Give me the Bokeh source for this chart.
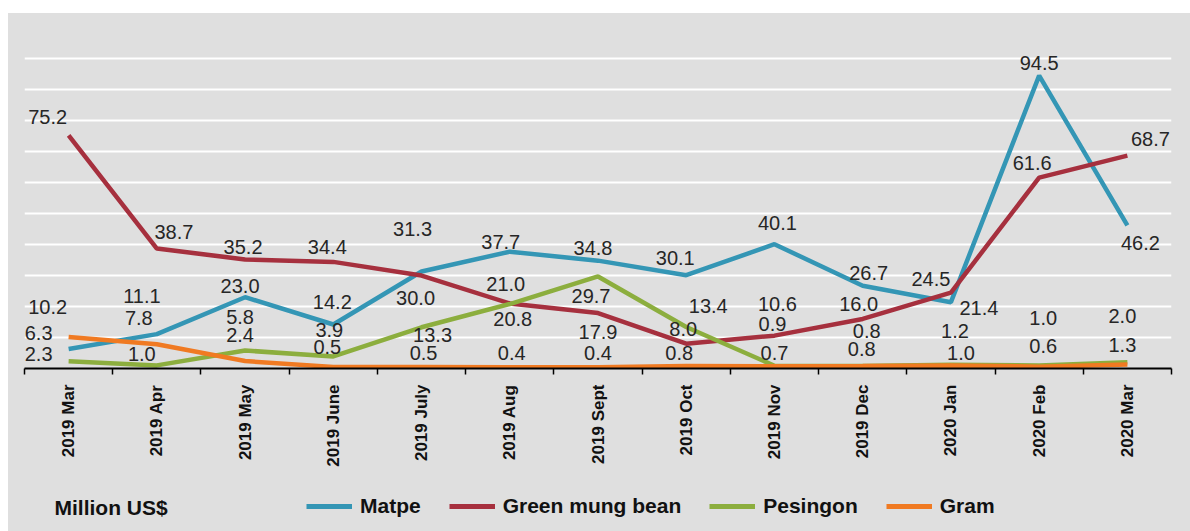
import math
from bokeh.plotting import figure
from bokeh.models import ColumnDataSource, FixedTicker, Range1d, Label, Spacer
from bokeh.layouts import column, row
from bokeh.core.properties import value
from bokeh.embed import file_html
from bokeh.resources import INLINE

# ---- data ----
categories = ["2019 Mar", "2019 Apr", "2019 May", "2019 June", "2019 July", "2019 Aug",
              "2019 Sept", "2019 Oct", "2019 Nov", "2019 Dec", "2020 Jan", "2020 Feb", "2020 Mar"]
series_names = ["Matpe", "Green mung bean", "Pesingon", "Gram"]
matpe = [6.3, 11.1, 23.0, 14.2, 31.3, 37.7, 34.8, 30.1, 40.1, 26.7, 21.4, 94.5, 46.2]
green_mung_bean = [75.2, 38.7, 35.2, 34.4, 30.0, 21.0, 17.9, 8.0, 10.6, 16.0, 24.5, 61.6, 68.7]
pesingon = [2.3, 1.0, 5.8, 3.9, 13.3, 20.8, 29.7, 13.4, 0.9, 0.8, 1.2, 1.0, 2.0]
gram = [10.2, 7.8, 2.4, 0.5, 0.5, 0.4, 0.4, 0.8, 0.7, 0.8, 1.0, 0.6, 1.3]
unit_label = "Million US$"

# ---- styles ----
colors = ["#3496b5", "#a6303e", "#8cae3e", "#f07a22"]
# label pixel offsets (dx, dy) relative to each point (screen pixels, dy down)
label_dx = [
    [-30, -15, -5, -1, -9, -9, -5, -11, 3, 6, 28, 0, 13],
    [-21, 17, -2, -6, -6, -4, 0, -3, 3, -4, -20, -7, 23],
    [-30, -15, -5, -4, 11, 3, -7, 22, -2, 4, 4, 4, -5],
    [-21, -18, -5, -6, 2, 2, 0, -7, 0, -1, 10, 4, -5],
]
label_dy = [
    [-16, -38, -11, -22, -42, -10, -13, -17, -21, -13, 6, -13, 18],
    [-18, -17, -12, -15, 22, -19, 19, -15, -32, -15, -14, -15, -17],
    [-7, -11, -34, -26, 8, 15, 20, -21, -42, -35, -34, -47, -46],
    [-30, -26, -26, -20, -14, -14, -14, -13, -13, -17, -12, -21, -19],
]

BG = "#dfdfdf"
FONT = "Liberation Sans"

# ---- main chart ----
p = figure(width=1182, height=467, output_backend="svg", toolbar_location=None,
           x_range=Range1d(-0.5, len(categories) - 0.5), y_range=Range1d(0, 111),
           min_border_left=16, min_border_right=19, min_border_top=11, min_border_bottom=112)
p.background_fill_color = BG
p.border_fill_color = BG
p.outline_line_color = None

xs = list(range(len(categories)))
all_series = [matpe, green_mung_bean, pesingon, gram]
for vals, col in zip(all_series, colors):
    p.line(xs, vals, line_color=col, line_width=4.5)

lx, ly, lt, ldx, ldy = [], [], [], [], []
for si, vals in enumerate(all_series):
    for i, v in enumerate(vals):
        lx.append(i); ly.append(v); lt.append(f"{v:.1f}")
        ldx.append(label_dx[si][i]); ldy.append(label_dy[si][i])
src = ColumnDataSource(dict(x=lx, y=ly, t=lt, dx=ldx, dy=ldy))
p.text(x="x", y="y", text="t", x_offset="dx", y_offset="dy", source=src,
       text_align="center", text_baseline="middle", text_font=value(FONT),
       text_font_size="20px", text_color="#262626")

p.yaxis.visible = False
p.ygrid.ticker = FixedTicker(ticks=[10 * k for k in range(1, 11)])
p.ygrid.grid_line_color = "white"
p.ygrid.grid_line_width = 2
p.xgrid.grid_line_color = None

ax = p.xaxis[0]
ax.ticker = FixedTicker(ticks=xs, minor_ticks=[i - 0.5 for i in range(len(categories) + 1)])
ax.major_label_overrides = {i: c for i, c in enumerate(categories)}
ax.major_tick_line_color = None
ax.major_tick_out = 0
ax.major_tick_in = 0
ax.minor_tick_line_color = "black"
ax.minor_tick_line_width = 1.5
ax.minor_tick_out = 6
ax.minor_tick_in = 0
ax.axis_line_color = "black"
ax.axis_line_width = 2
ax.major_label_orientation = math.pi / 2
ax.major_label_standoff = 10
ax.major_label_text_font = FONT
ax.major_label_text_font_style = "bold"
ax.major_label_text_font_size = "17px"
ax.major_label_text_color = "#111111"

# ---- legend strip (same series, kept out of view; only the legend shows) ----
p2 = figure(width=1182, height=51, output_backend="svg", toolbar_location=None,
            x_range=Range1d(-0.5, len(categories) - 0.5), y_range=Range1d(-20, -10),
            x_axis_location=None, y_axis_location=None, min_border=0,
            min_border_left=0, min_border_right=0, min_border_top=0, min_border_bottom=0)
p2.background_fill_color = BG
p2.border_fill_color = BG
p2.outline_line_color = None
p2.xgrid.visible = False
p2.ygrid.visible = False
for name, vals, col in zip(series_names, all_series, colors):
    p2.line(xs, vals, line_color=col, line_width=5, legend_label=name)

lg = p2.legend[0]
lg.orientation = "horizontal"
lg.location = (282, 13)
lg.background_fill_alpha = 0
lg.border_line_color = None
lg.glyph_width = 46
lg.glyph_height = 20
lg.label_standoff = 8
lg.spacing = 28
lg.padding = 0
lg.margin = 0
lg.label_text_font = FONT
lg.label_text_font_style = "bold"
lg.label_text_font_size = "21px"
lg.label_text_color = "#111111"

p2.add_layout(Label(x=30, y=24, x_units="screen", y_units="screen", text=unit_label,
                    text_font=FONT, text_font_style="bold", text_font_size="21px",
                    text_color="#111111", text_baseline="middle", text_align="left"))

chart = column(p, p2, spacing=0, styles={"background-color": BG})
layout = column(Spacer(width=1190, height=13),
                row(Spacer(width=8, height=518), chart, spacing=0), spacing=0)

open("out.html", "w").write(file_html(layout, INLINE))
